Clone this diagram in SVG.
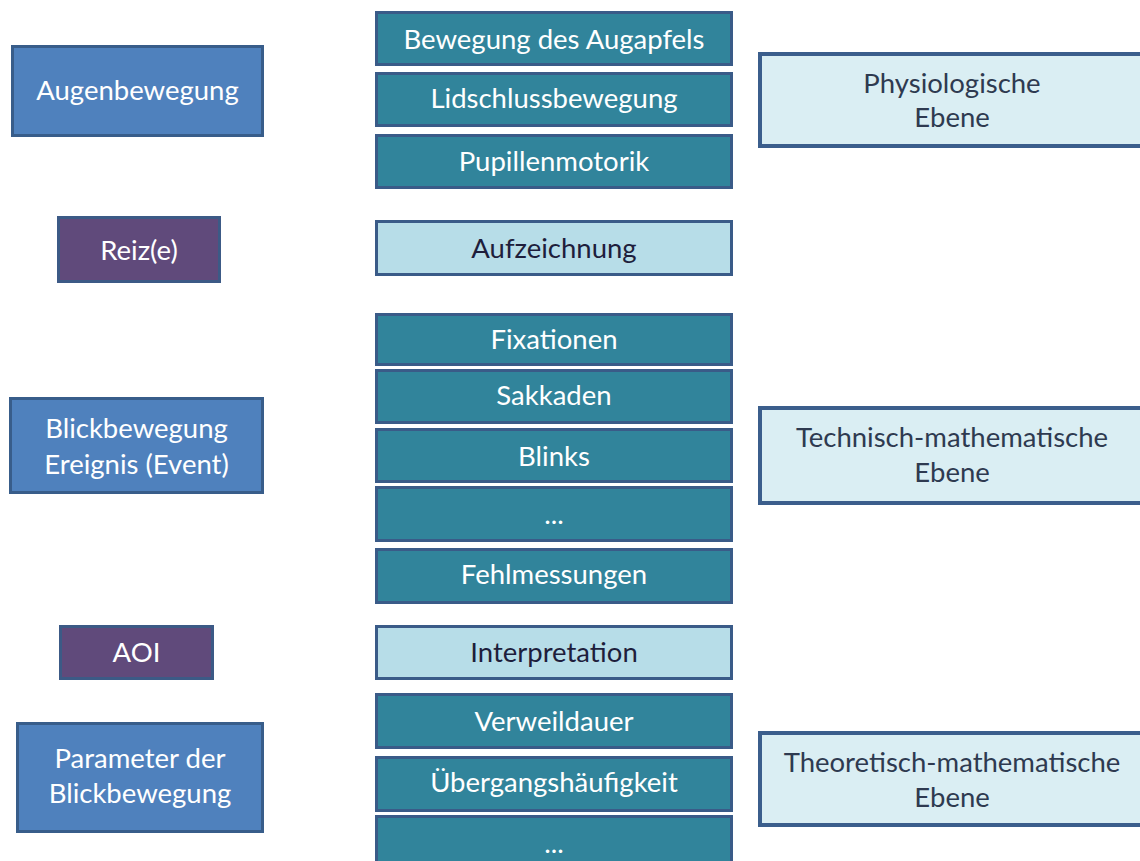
<svg xmlns="http://www.w3.org/2000/svg" width="1140" height="861" viewBox="0 0 1140 861">
<style>
text{font-family:Lato,"Liberation Sans",sans-serif;font-size:27.5px;text-anchor:middle}
.blue rect{fill:#4F81BD;stroke:#385D8A;stroke-width:3}
.purple rect{fill:#604A7B;stroke:#3C5A86;stroke-width:3}
.teal rect{fill:#31849B;stroke:#3A5B88;stroke-width:3}
.light rect{fill:#B7DDE8;stroke:#3A5B88;stroke-width:3}
.level rect{fill:#DAEEF3;stroke:#3B5E8C;stroke-width:4}
.blue text,.purple text,.teal text{fill:#FFFFFF}
.light text{fill:#1E1E3C}
.level text{fill:#2E3A50}
</style>
<g id="connectors"></g>
<!-- left column -->
<g id="augenbewegung" class="blue"><rect x="12.5" y="46.5" width="250" height="89"/><text x="137.5" y="100">Augenbewegung</text></g>
<g id="reize" class="purple"><rect x="58.5" y="217.5" width="161" height="64"/><text x="139" y="260">Reiz(e)</text></g>
<g id="blickbewegung" class="blue"><rect x="10.5" y="398.5" width="252" height="94"/><text x="136.5" y="438">Blickbewegung</text><text x="136.5" y="474">Ereignis (Event)</text></g>
<g id="aoi" class="purple"><rect x="60.5" y="626.5" width="152" height="52"/><text x="136.5" y="662">AOI</text></g>
<g id="parameter" class="blue"><rect x="17.5" y="723.5" width="245" height="108"/><text x="140" y="768">Parameter der</text><text x="140" y="803">Blickbewegung</text></g>
<!-- middle column -->
<g id="augapfel" class="teal"><rect x="376.5" y="12.5" width="355" height="52"/><text x="554" y="49">Bewegung des Augapfels</text></g>
<g id="lidschluss" class="teal"><rect x="376.5" y="73.5" width="355" height="52"/><text x="554" y="108">Lidschlussbewegung</text></g>
<g id="pupillen" class="teal"><rect x="376.5" y="135.5" width="355" height="52"/><text x="554" y="171">Pupillenmotorik</text></g>
<g id="aufzeichnung" class="light"><rect x="376.5" y="221.5" width="355" height="53"/><text x="554" y="258">Aufzeichnung</text></g>
<g id="fixationen" class="teal"><rect x="376.5" y="314.5" width="355" height="50"/><text x="554" y="349">Fixationen</text></g>
<g id="sakkaden" class="teal"><rect x="376.5" y="370.5" width="355" height="52"/><text x="554" y="405">Sakkaden</text></g>
<g id="blinks" class="teal"><rect x="376.5" y="429.5" width="355" height="52"/><text x="554" y="466">Blinks</text></g>
<g id="dots1" class="teal"><rect x="376.5" y="487.5" width="355" height="53"/><text x="554" y="524">...</text></g>
<g id="fehlmessungen" class="teal"><rect x="376.5" y="549.5" width="355" height="53"/><text x="554" y="584">Fehlmessungen</text></g>
<g id="interpretation" class="light"><rect x="376.5" y="626.5" width="355" height="52"/><text x="554" y="662">Interpretation</text></g>
<g id="verweildauer" class="teal"><rect x="376.5" y="694.5" width="355" height="53"/><text x="554" y="731">Verweildauer</text></g>
<g id="uebergang" class="teal"><rect x="376.5" y="757.5" width="355" height="53"/><text x="554" y="792">Übergangshäufigkeit</text></g>
<g id="dots2" class="teal"><rect x="376.5" y="816.5" width="355" height="60"/><text x="554" y="853">...</text></g>
<!-- right column -->
<g id="physiologisch" class="level"><rect x="760" y="54" width="390" height="92"/><text x="952" y="93">Physiologische</text><text x="952" y="127">Ebene</text></g>
<g id="technisch" class="level"><rect x="760" y="408" width="390" height="95"/><text x="952" y="447">Technisch-mathematische</text><text x="952" y="482">Ebene</text></g>
<g id="theoretisch" class="level"><rect x="760" y="733" width="390" height="92"/><text x="952" y="772">Theoretisch-mathematische</text><text x="952" y="807">Ebene</text></g>
</svg>
